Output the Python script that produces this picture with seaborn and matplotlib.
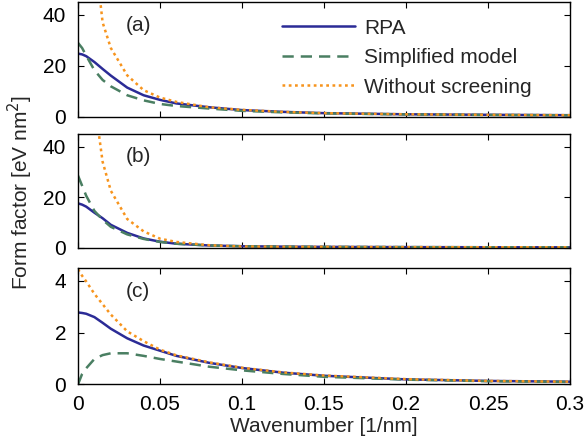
import numpy as np
import pandas as pd
import matplotlib
matplotlib.use("Agg")
import matplotlib.pyplot as plt
import seaborn as sns

# wavenumber grid [1/nm]
q = [0, 0.0025, 0.005, 0.01, 0.015, 0.02, 0.03, 0.04, 0.05, 0.06, 0.08,
     0.1, 0.125, 0.15, 0.2, 0.25, 0.3]

# panel (a)
rpa_a = [24.8, 24.5, 23.8, 21.5, 18.8, 16.2, 11.5, 8.5, 6.7, 5.3, 3.8,
         2.7, 2.0, 1.5, 1.05, 0.85, 0.7]
simp_a = [29, 27, 24, 18.3, 14.5, 12.0, 8.5, 6.5, 5.1, 4.3, 3.3,
          2.4, 1.8, 1.4, 1.0, 0.8, 0.65]
unscr_a = [np.nan, 400, 180, 66, 37, 27, 16.3, 10.5, 7.6, 5.9, 3.8,
           2.8, 2.0, 1.5, 1.05, 0.85, 0.7]

# panel (b)
rpa_b = [17.5, 17.0, 16.2, 13.8, 11.6, 9.0, 5.8, 3.6, 2.3, 1.5, 0.8,
         0.5, 0.35, 0.25, 0.15, 0.1, 0.08]
simp_b = [28.5, 24.5, 20.5, 14.5, 11.0, 8.2, 5.2, 3.4, 2.2, 1.5, 0.8,
          0.5, 0.35, 0.25, 0.15, 0.1, 0.08]
unscr_b = [np.nan, 600, 250, 58, 34, 22.5, 11.3, 6.4, 3.5, 2.2, 0.9,
           0.4, 0.3, 0.25, 0.15, 0.1, 0.08]

# panel (c)
rpa_c = [2.78, 2.76, 2.73, 2.6, 2.38, 2.15, 1.78, 1.50, 1.30, 1.10, 0.83,
         0.63, 0.45, 0.33, 0.19, 0.13, 0.1]
simp_c = [0, 0.4, 0.62, 0.98, 1.13, 1.2, 1.2, 1.1, 0.98, 0.88, 0.68,
          0.54, 0.4, 0.29, 0.18, 0.12, 0.09]
unscr_c = [4.45, 4.2, 3.98, 3.5, 3.1, 2.7, 2.05, 1.67, 1.34, 1.12, 0.85,
           0.64, 0.46, 0.34, 0.2, 0.13, 0.1]

names = ["RPA", "Simplified model", "Without screening"]
panels = [("(a)", [rpa_a, simp_a, unscr_a], 45, [0, 20, 40]),
          ("(b)", [rpa_b, simp_b, unscr_b], 45, [0, 20, 40]),
          ("(c)", [rpa_c, simp_c, unscr_c], 4.5, [0, 2, 4])]

colors = {"RPA": "#2b2b96", "Simplified model": "#4a7f62", "Without screening": "#f7941d"}
dashes = {"RPA": "", "Simplified model": (4.5, 2.8), "Without screening": (1.1, 1.4)}

sns.set_style("ticks")
plt.rcParams["font.family"] = ["Liberation Sans", "DejaVu Sans"]
plt.rcParams["font.size"] = 15
plt.rcParams["xtick.direction"] = "in"
plt.rcParams["ytick.direction"] = "in"

fig = plt.figure(figsize=(5.87, 4.47), dpi=100)
boxes = [(0.7383, 0.9955), (0.4463, 0.7002), (0.1403, 0.4004)]
left, right = 0.1329, 0.971

for i, ((tag, series, ytop, yt), (b, t)) in enumerate(zip(panels, boxes)):
    ax = fig.add_axes([left, b, right - left, t - b])
    df = pd.concat([pd.DataFrame({"q": q, "F": s, "model": n})
                    for n, s in zip(names, series)])
    df = df.dropna()
    sns.lineplot(data=df, x="q", y="F", hue="model", style="model",
                 palette=colors, dashes=dashes, hue_order=names,
                 style_order=names, linewidth=1.8, legend=False, ax=ax,
                 sort=False)
    ax.set_xlim(0, 0.3)
    ax.set_ylim(0, ytop)
    ax.set_xticks([0, 0.05, 0.1, 0.15, 0.2, 0.25, 0.3])
    ax.set_yticks(yt)
    ax.tick_params(top=True, right=True, length=4, width=0.8, colors="black")
    ax.tick_params(axis="x", pad=8)
    ax.tick_params(axis="y", pad=8.5)
    for sp in ax.spines.values():
        sp.set_color("black")
        sp.set_linewidth(1.0)
    ax.set_xlabel("")
    ax.set_ylabel("")
    if i < 2:
        ax.set_xticklabels([])
    else:
        ax.set_xticklabels(["0", "0.05", "0.1", "0.15", "0.2", "0.25", "0.3"])
        ax.set_xlabel("Wavenumber [1/nm]", labelpad=2)
    ax.text(0.122, 0.80, tag, transform=ax.transAxes, ha="center", va="center")
    if i == 0:
        ax.legend(ax.get_lines()[:3], names, loc="upper left",
                  bbox_to_anchor=(0.415, 0.855), frameon=False, borderpad=0,
                  borderaxespad=0, handlelength=3.5, handletextpad=0.45,
                  labelspacing=0.5)

fig.text(0.034, 0.57, "Form factor [eV nm$^2$]", rotation=90,
         ha="center", va="center")

fig.savefig("out.png", dpi=100)
